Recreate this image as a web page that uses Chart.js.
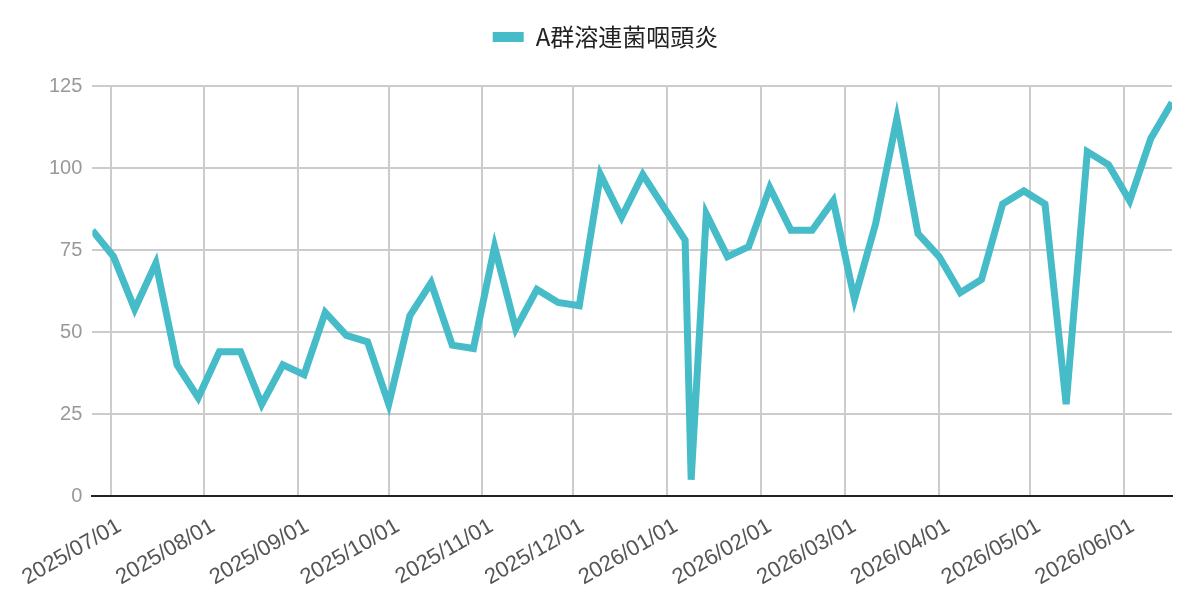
<!DOCTYPE html>
<html>
<head>
<meta charset="utf-8">
<script src="https://cdn.jsdelivr.net/npm/chart.js@4"></script>
<style>
  html, body { margin: 0; padding: 0; background: #fff; }
  #wrap { width: 1200px; height: 614px; position: relative; }
</style>
</head>
<body>
<div id="wrap"><canvas id="strepChart"></canvas></div>
<script>
// weekly report dates (one extra report around the new year)
const reportDates = [
  '2025-06-25', '2025-07-02', '2025-07-09', '2025-07-16', '2025-07-23', '2025-07-30',
  '2025-08-06', '2025-08-13', '2025-08-20', '2025-08-27', '2025-09-03', '2025-09-10',
  '2025-09-17', '2025-09-24', '2025-10-01', '2025-10-08', '2025-10-15', '2025-10-22',
  '2025-10-29', '2025-11-05', '2025-11-12', '2025-11-19', '2025-11-26', '2025-12-03',
  '2025-12-10', '2025-12-17', '2025-12-24', '2025-12-31', '2026-01-07', '2026-01-09',
  '2026-01-14', '2026-01-21', '2026-01-28', '2026-02-04', '2026-02-11', '2026-02-18',
  '2026-02-25', '2026-03-04', '2026-03-11', '2026-03-18', '2026-03-25', '2026-04-01',
  '2026-04-08', '2026-04-15', '2026-04-22', '2026-04-29', '2026-05-06', '2026-05-13',
  '2026-05-20', '2026-05-27', '2026-06-03', '2026-06-10', '2026-06-17'
];
const caseCounts = [
  81, 73, 57, 71, 40, 30,
  44, 44, 28, 40, 37, 56,
  49, 47, 28, 55, 65, 46,
  45, 76, 51, 63, 59, 58,
  98, 85, 98, 88, 78, 5,
  86, 73, 76, 94, 81, 81,
  90, 60, 83, 115, 80, 73,
  62, 66, 89, 93, 89, 28,
  105, 101, 90, 109, 120
];
const monthTicks = [
  '2025/07/01', '2025/08/01', '2025/09/01', '2025/10/01', '2025/11/01', '2025/12/01',
  '2026/01/01', '2026/02/01', '2026/03/01', '2026/04/01', '2026/05/01', '2026/06/01'
];
const yTicks = [0, 25, 50, 75, 100, 125];
const seriesName = 'A群溶連菌咽頭炎';

const toMs = s => Date.parse(s.replace(/\//g, '-') + 'T00:00:00Z');
const points = reportDates.map((d, i) => ({ x: toMs(d), y: caseCounts[i] }));

const lineColor = '#46bcc8';

// more room under the legend
const legendGap = {
  id: 'legendGap',
  beforeInit(chart) {
    const fit = chart.legend.fit;
    chart.legend.fit = function () {
      fit.bind(chart.legend)();
      this.height += 27;
    };
  },
};

new Chart(document.getElementById('strepChart'), {
  type: 'line',
  data: {
    datasets: [{
      label: seriesName,
      data: points,
      borderColor: lineColor,
      backgroundColor: lineColor,
      borderWidth: 7,
      pointRadius: 0,
      pointHoverRadius: 0,
      tension: 0,
      fill: false,
    }],
  },
  options: {
    responsive: true,
    maintainAspectRatio: false,
    animation: false,
    layout: { padding: { top: 5, right: 28, bottom: 6, left: 39 } },
    plugins: {
      legend: {
        position: 'top',
        labels: {
          boxWidth: 31,
          boxHeight: 10,
          padding: 20,
          color: '#222',
          font: { family: "'Noto Sans CJK JP', 'Liberation Sans', sans-serif", size: 24 },
          generateLabels: chart => Chart.defaults.plugins.legend.labels.generateLabels(chart)
            .map(item => Object.assign(item, { lineWidth: 0 })),
        },
      },
      tooltip: { enabled: false },
    },
    scales: {
      x: {
        type: 'linear',
        min: points[0].x,
        max: points[points.length - 1].x,
        afterBuildTicks: scale => {
          scale.ticks = monthTicks.map(t => ({ value: toMs(t) }));
        },
        // the rotated first label may hang over the y labels, as in the original
        afterFit: scale => {
          scale.paddingLeft = 0;
        },
        ticks: {
          autoSkip: false,
          minRotation: 30,
          maxRotation: 30,
          padding: 17,
          labelOffset: 9,
          color: '#555',
          font: { family: "'Liberation Sans', Arial, sans-serif", size: 22 },
          callback: (value, index) => monthTicks[index],
        },
        grid: { color: '#cccccc', lineWidth: 2, drawTicks: false },
        border: { display: true, color: '#222', width: 2 },
      },
      y: {
        min: 0,
        max: 125,
        afterBuildTicks: scale => {
          scale.ticks = yTicks.map(v => ({ value: v }));
        },
        ticks: {
          padding: 10,
          color: '#999',
          font: { family: "'Liberation Sans', Arial, sans-serif", size: 20 },
        },
        grid: { color: '#cccccc', lineWidth: 2, drawTicks: false },
        border: { display: false },
      },
    },
  },
  plugins: [legendGap],
});
</script>
</body>
</html>
